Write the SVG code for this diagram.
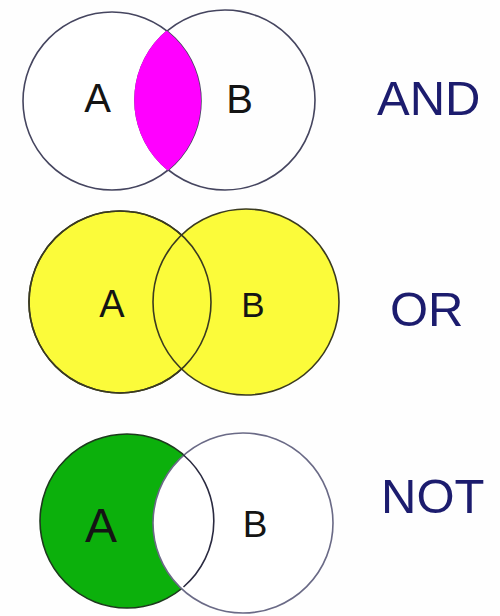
<svg xmlns="http://www.w3.org/2000/svg" width="500" height="616" viewBox="0 0 500 616">
<style>
.lbl{font-family:"Liberation Sans",Arial,sans-serif;fill:#141414;text-anchor:middle}
.op{font-family:"Liberation Sans",Arial,sans-serif;fill:#1c1c6e;font-size:49px}
.ln{stroke-width:1.6}
</style>
<defs>
<clipPath id="andClip"><circle cx="112" cy="101" r="89"/></clipPath>
</defs>
<rect width="500" height="616" fill="#fefefe"/>
<g id="and">
<circle cx="112" cy="101" r="89" fill="#fff" class="ln" stroke="#45455f"/>
<circle cx="225" cy="100" r="90" fill="none" class="ln" stroke="#45455f"/>
<circle cx="225" cy="100" r="90" fill="#ff00ff" stroke="#ff00ff" stroke-width="1.6" clip-path="url(#andClip)"/>
<text class="lbl" x="97.5" y="112" font-size="40">A</text>
<text class="lbl" x="239.5" y="113" font-size="40">B</text>
<text class="op" x="377" y="115">AND</text>
</g>
<g id="or">
<circle cx="120" cy="302" r="91" fill="#fbfb3a" class="ln" stroke="#3a3a20"/>
<circle cx="246" cy="302" r="93" fill="#fbfb3a" class="ln" stroke="#3a3a20"/>
<circle cx="120" cy="302" r="91" fill="none" class="ln" stroke="#3a3a20"/>
<text class="lbl" x="112" y="317" font-size="38">A</text>
<text class="lbl" x="253" y="317" font-size="35">B</text>
<text class="op" x="390" y="326">OR</text>
</g>
<g id="not">
<circle cx="127" cy="521" r="87" fill="#0cb00c" class="ln" stroke="#1d3a1d"/>
<circle cx="243" cy="523" r="90" fill="#fff" class="ln" stroke="#6a6a86"/>
<path d="M183.5,455 A87,87 0 0 1 183.5,587" fill="none" class="ln" stroke="#2a2a40"/>
<text class="lbl" x="101" y="542" font-size="48">A</text>
<text class="lbl" x="255" y="537" font-size="37">B</text>
<text class="op" x="381" y="513">NOT</text>
</g>
</svg>
